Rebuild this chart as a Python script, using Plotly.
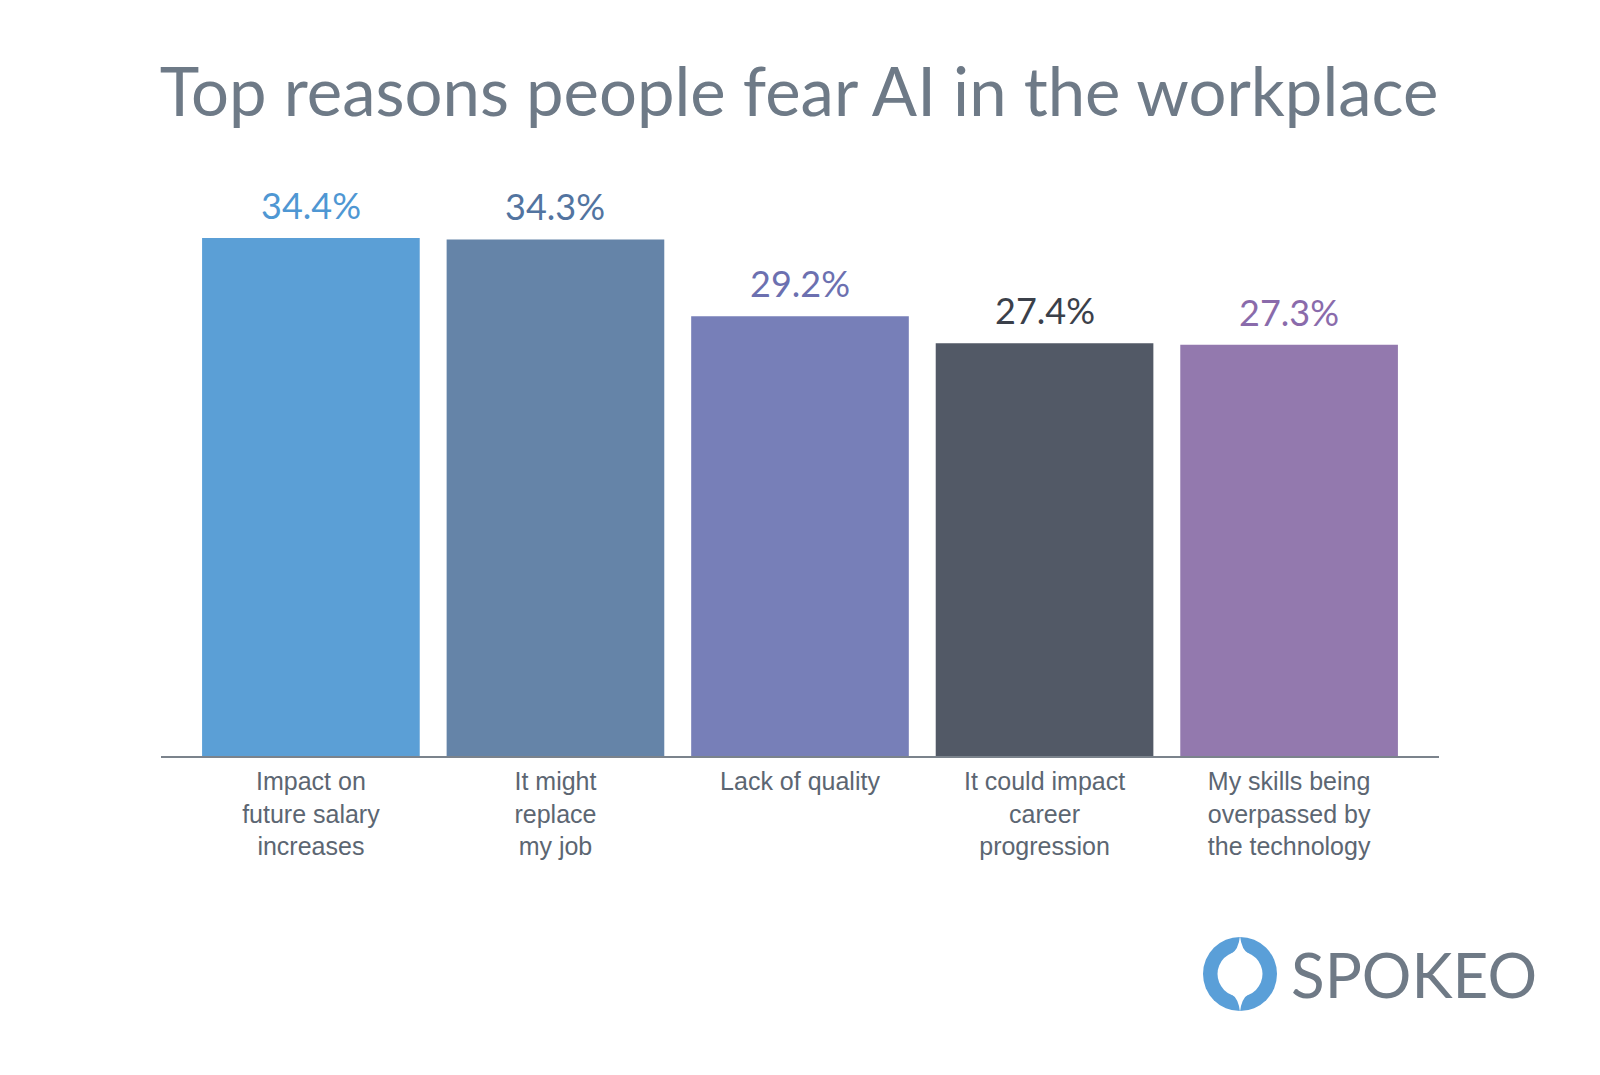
import plotly.graph_objects as go

categories = ["Impact on<br>future salary<br>increases", "It might<br>replace<br>my job", "Lack of quality",
              "It could impact<br>career<br>progression", "My skills being<br>overpassed by<br>the technology"]
values = [34.4, 34.3, 29.2, 27.4, 27.3]
value_labels = ["34.4%", "34.3%", "29.2%", "27.4%", "27.3%"]
bar_colors = ["#5b9fd6", "#6584a8", "#777fb8", "#525966", "#9379ae"]
label_colors = ["#4f97d3", "#5274a0", "#6c70b0", "#3b404a", "#8a6bab"]

OFF = 8  # page body margin
W, H = 1600 - OFF, 1075 - OFF
ML = 161 - OFF
MR = W - (1439 - OFF)
MT = 160 - OFF
MB = H - (756 - OFF)
PW, PH = W - ML - MR, H - MT - MB


def px(x):  # page pixel -> paper x
    return (x - OFF - ML) / PW


def py(y):  # page pixel -> paper y
    return (H - MB - (y - OFF)) / PH


fig = go.Figure()
fig.add_trace(go.Bar(
    x=list(range(len(categories))), y=values,
    marker=dict(color=bar_colors, line=dict(width=0)),
    width=0.89, hoverinfo="skip",
))

for i, (v, t, c) in enumerate(zip(values, value_labels, label_colors)):
    fig.add_annotation(x=i, y=v, text=t, showarrow=False, yanchor="middle", yshift=33,
                       font=dict(family="Lato", size=36, color=c))

# logo
cx, cy = px(1240), py(974)
logo_kw = dict(xref="paper", yref="paper", xsizemode="pixel", ysizemode="pixel", xanchor=cx, yanchor=cy)
fig.add_shape(type="circle", x0=-37, x1=37, y0=-37, y1=37,
              fillcolor="#5a9fd8", line=dict(width=0), **logo_kw)
fig.add_shape(type="circle", x0=-22.5, x1=22.5, y0=-22.5, y1=22.5,
              fillcolor="white", line=dict(width=0), **logo_kw)
fig.add_shape(type="path", path="M -9 20 Q -1.5 24 0 38 Q 1.5 24 9 20 Z",
              fillcolor="white", line=dict(width=0), **logo_kw)
fig.add_shape(type="path", path="M -9 -20 Q -1.5 -24 0 -38 Q 1.5 -24 9 -20 Z",
              fillcolor="white", line=dict(width=0), **logo_kw)
fig.add_annotation(xref="paper", yref="paper", x=px(1289), y=py(974), xanchor="left", yanchor="middle",
                   text="SPOKEO", showarrow=False,
                   font=dict(family="Lato", size=62, color="#6f7a86"))

fig.update_layout(
    width=W, height=H,
    margin=dict(l=ML, r=MR, t=MT, b=MB),
    paper_bgcolor="white", plot_bgcolor="white",
    showlegend=False,
    title=dict(text="Top reasons people fear AI in the workplace", x=px(799), xanchor="center",
               xref="paper", y=1 - (93 - OFF) / H, yanchor="middle", yref="container",
               font=dict(family="Lato", size=67, color="#6e7a87")),
    xaxis=dict(range=[-0.613, len(categories) - 1 + 0.613], tickmode="array",
               tickvals=list(range(len(categories))), ticktext=categories,
               showline=True, linecolor="#7b838c", linewidth=2, ticks="", showgrid=False,
               zeroline=False, tickfont=dict(family="Liberation Sans", size=25, color="#5c6672"),
               ticklabelstandoff=2),
    yaxis=dict(range=[0, PH / 15.06], visible=False, showgrid=False, zeroline=False),
)

fig.write_html("out.html")
